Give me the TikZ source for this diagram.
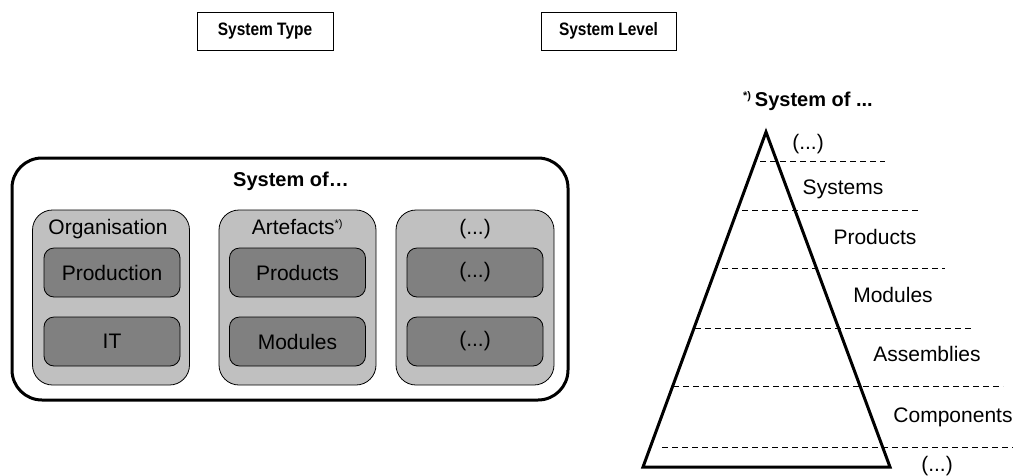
\documentclass[tikz,border=0pt]{standalone}
\usepackage{fontspec}
\setmainfont{Liberation Sans}
\newfontfamily\hdrfont[FakeStretch=0.86]{Liberation Sans}
\definecolor{grplight}{RGB}{192,192,192}
\definecolor{grpdark}{RGB}{128,128,128}
\begin{document}
\begin{tikzpicture}[x=1pt,y=-1pt,
  txt/.style={inner sep=0pt,anchor=mid,font=\fontsize{21}{24}\selectfont},
  btxt/.style={inner sep=0pt,anchor=mid,font=\fontsize{20}{23}\selectfont\bfseries},
  header/.style={draw,line width=1pt,minimum width=136pt,minimum height=38pt,inner sep=0pt,font=\hdrfont\fontsize{18}{20}\selectfont\bfseries},
  outerbox/.style={draw,line width=3pt,rounded corners=30pt,minimum width=556pt,minimum height=242pt,inner sep=0pt},
  grpbox/.style={draw,line width=0.8pt,fill=grplight,rounded corners=20pt,minimum width=157pt,minimum height=175pt,inner sep=0pt},
  innerbox/.style={draw,line width=0.8pt,fill=grpdark,rounded corners=10pt,minimum width=136pt,minimum height=49pt,inner sep=0pt,font=\fontsize{21}{24}\selectfont},
  lvl/.style={dashed,dash pattern=on 6pt off 4pt,line width=0.8pt},
  pyr/.style={line width=3pt,line join=miter}
]
\useasboundingbox (0,0) rectangle (1013,475);
% headers
\node[header] (htype) at (265,31) {System Type};
\node[header,minimum width=135pt] (hlevel) at (608.5,31) {System Level};
% left part
\node[outerbox] (sys) at (290,279) {};
\node[btxt] (systitle) at (291,184) {System of\ldots};
\node[grpbox] (g1) at (111,297.5) {};
\node[grpbox] (g2) at (297.5,297.5) {};
\node[grpbox,minimum width=158pt] (g3) at (475,297.5) {};
\node[txt] (g1t) at (108,232) {Organisation};
\node[txt] (g2t) at (297.5,232) {Artefacts\textsuperscript{\fontsize{11}{12}\selectfont *)}};
\node[txt] (g3t) at (475,232) {(...)};
\node[innerbox] (i11) at (112,272.5) {Production};
\node[innerbox] (i12) at (112,341.5) {IT};
\node[innerbox] (i21) at (297.5,272.5) {Products};
\node[innerbox] (i22) at (297.5,341.5) {Modules};
\node[innerbox] (i31) at (475,272.5) {(...)};
\node[innerbox] (i32) at (475,341.5) {(...)};
% pyramid
\node[btxt] (pyrtitle) at (808,104) {\textsuperscript{\fontsize{11}{12}\selectfont *)}\,System of ...};
\coordinate (apex) at (766,132);
\coordinate (bl) at (643,467);
\coordinate (br) at (890,467);
\draw[pyr] (apex) -- (br) -- (bl) -- cycle;
\draw[lvl] (760,161) -- (885,161);
\draw[lvl] (742,210) -- (920,210);
\draw[lvl] (722,268) -- (945,268);
\draw[lvl] (695,328) -- (972,328);
\draw[lvl] (673,386) -- (1003,386);
\draw[lvl] (662,447) -- (1013,447);
\node[txt] (l0) at (808,147) {(...)};
\node[txt] (l1) at (843,192) {Systems};
\node[txt] (l2) at (875,242) {Products};
\node[txt] (l3) at (893,300) {Modules};
\node[txt] (l4) at (927,359) {Assemblies};
\node[txt] (l5) at (953,420) {Components};
\node[txt] (l6) at (937,469) {(...)};
\end{tikzpicture}
\end{document}
